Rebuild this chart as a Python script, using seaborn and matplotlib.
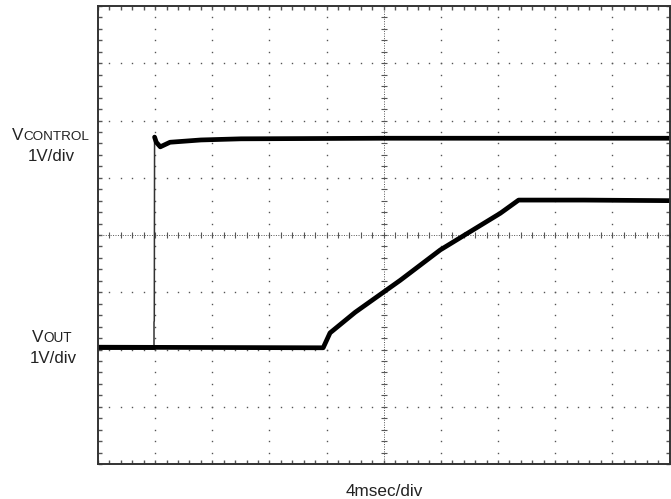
import numpy as np
import pandas as pd
import matplotlib
matplotlib.use("Agg")
import matplotlib.pyplot as plt
import seaborn as sns

# ---- data (time and voltage in screen divisions) ----
vctrl_t = [0.00, 0.98, 0.98, 0.985, 0.99, 1.02, 1.09, 1.26, 1.8, 2.5, 5.0, 10.0]
vctrl_v = [2.04, 2.04, 2.48, 2.50, 5.71, 5.62, 5.54, 5.62, 5.66, 5.68, 5.69, 5.69]
vout_t = [0.00, 3.94, 4.06, 4.50, 5.29, 5.99, 7.04, 7.36, 8.5, 10.0]
vout_v = [2.04, 2.03, 2.29, 2.65, 3.21, 3.74, 4.38, 4.61, 4.61, 4.60]

x_label = "4msec/div"
ch_labels = [("V", "CONTROL", "1V/div"), ("V", "OUT", "1V/div")]

sns.set_theme(style="white")
plt.rcParams['font.family'] = ['Liberation Sans', 'DejaVu Sans']

W, H = 671, 499
fig = plt.figure(figsize=(W / 100, H / 100), dpi=100)
ax = fig.add_axes([98 / W, (H - 464) / H, (669.5 - 98) / W, (464 - 6) / H])
ax.set_xlim(0, 10)
ax.set_ylim(0, 8)

gcol = "#555555"
minor = np.arange(0, 8.001, 0.2)
minor_x = np.arange(0, 10.001, 0.2)
# dotted grid lines
for k in range(1, 10):
    if k == 5:
        continue
    ax.plot(np.full_like(minor, k), minor, ls="none", marker="s", ms=1.0,
            color=gcol, mew=0)
for k in range(1, 8):
    if k == 4:
        continue
    ax.plot(minor_x, np.full_like(minor_x, k), ls="none", marker="s", ms=1.0,
            color=gcol, mew=0)
# centre cross
ax.axvline(5, color=gcol, lw=0.7, ls=(0, (1, 1.5)))
ax.axhline(4, color=gcol, lw=0.7, ls=(0, (1, 1.5)))
ax.plot(np.full_like(minor, 5), minor, ls="none", marker="_", ms=5, mew=0.8, color=gcol)
ax.plot(minor_x, np.full_like(minor_x, 4), ls="none", marker="|", ms=5, mew=0.8, color=gcol)

# traces
df_c = pd.DataFrame({"t": vctrl_t, "v": vctrl_v})
df_o = pd.DataFrame({"t": vout_t, "v": vout_v})
sns.lineplot(data=df_c.iloc[:2], x="t", y="v", ax=ax, color="black", lw=3.4,
             estimator=None, sort=False)
sns.lineplot(data=df_c.iloc[1:5], x="t", y="v", ax=ax, color="#333333", lw=1.1,
             estimator=None, sort=False)
sns.lineplot(data=df_c.iloc[4:], x="t", y="v", ax=ax, color="black", lw=3.4,
             estimator=None, sort=False, solid_joinstyle="round")
sns.lineplot(data=df_o, x="t", y="v", ax=ax, color="black", lw=3.4,
             estimator=None, sort=False, solid_joinstyle="round")

# frame and inner ticks
for s in ax.spines.values():
    s.set_visible(True)
    s.set_color("#333333")
    s.set_linewidth(1.4)
ax.set_xticks(minor_x)
ax.set_yticks(minor)
ax.tick_params(axis="both", which="both", direction="in", length=3, width=1,
               color=gcol, top=True, right=True, bottom=True, left=True,
               labelbottom=False, labelleft=False)
ax.set_xlabel("")
ax.set_ylabel("")
ax.grid(False)

# labels
tc = "#222222"
def ft(x, y, s, **kw):
    fig.text(x / W, 1 - y / H, s, color=tc, **kw)

ft(23, 140, "V", ha="right", va="baseline", fontsize=12.3)
ft(23, 140, "CONTROL", ha="left", va="baseline", fontsize=9.7)
ft(51, 161, "1V/div", ha="center", va="baseline", fontsize=12.2)
ft(43, 342, "V", ha="right", va="baseline", fontsize=12.3)
ft(43, 342, "OUT", ha="left", va="baseline", fontsize=9.8)
ft(53, 363, "1V/div", ha="center", va="baseline", fontsize=12.2)
ft(384, 496, x_label, ha="center", va="baseline", fontsize=12.3)

fig.savefig("out.png", dpi=100, facecolor="white")
